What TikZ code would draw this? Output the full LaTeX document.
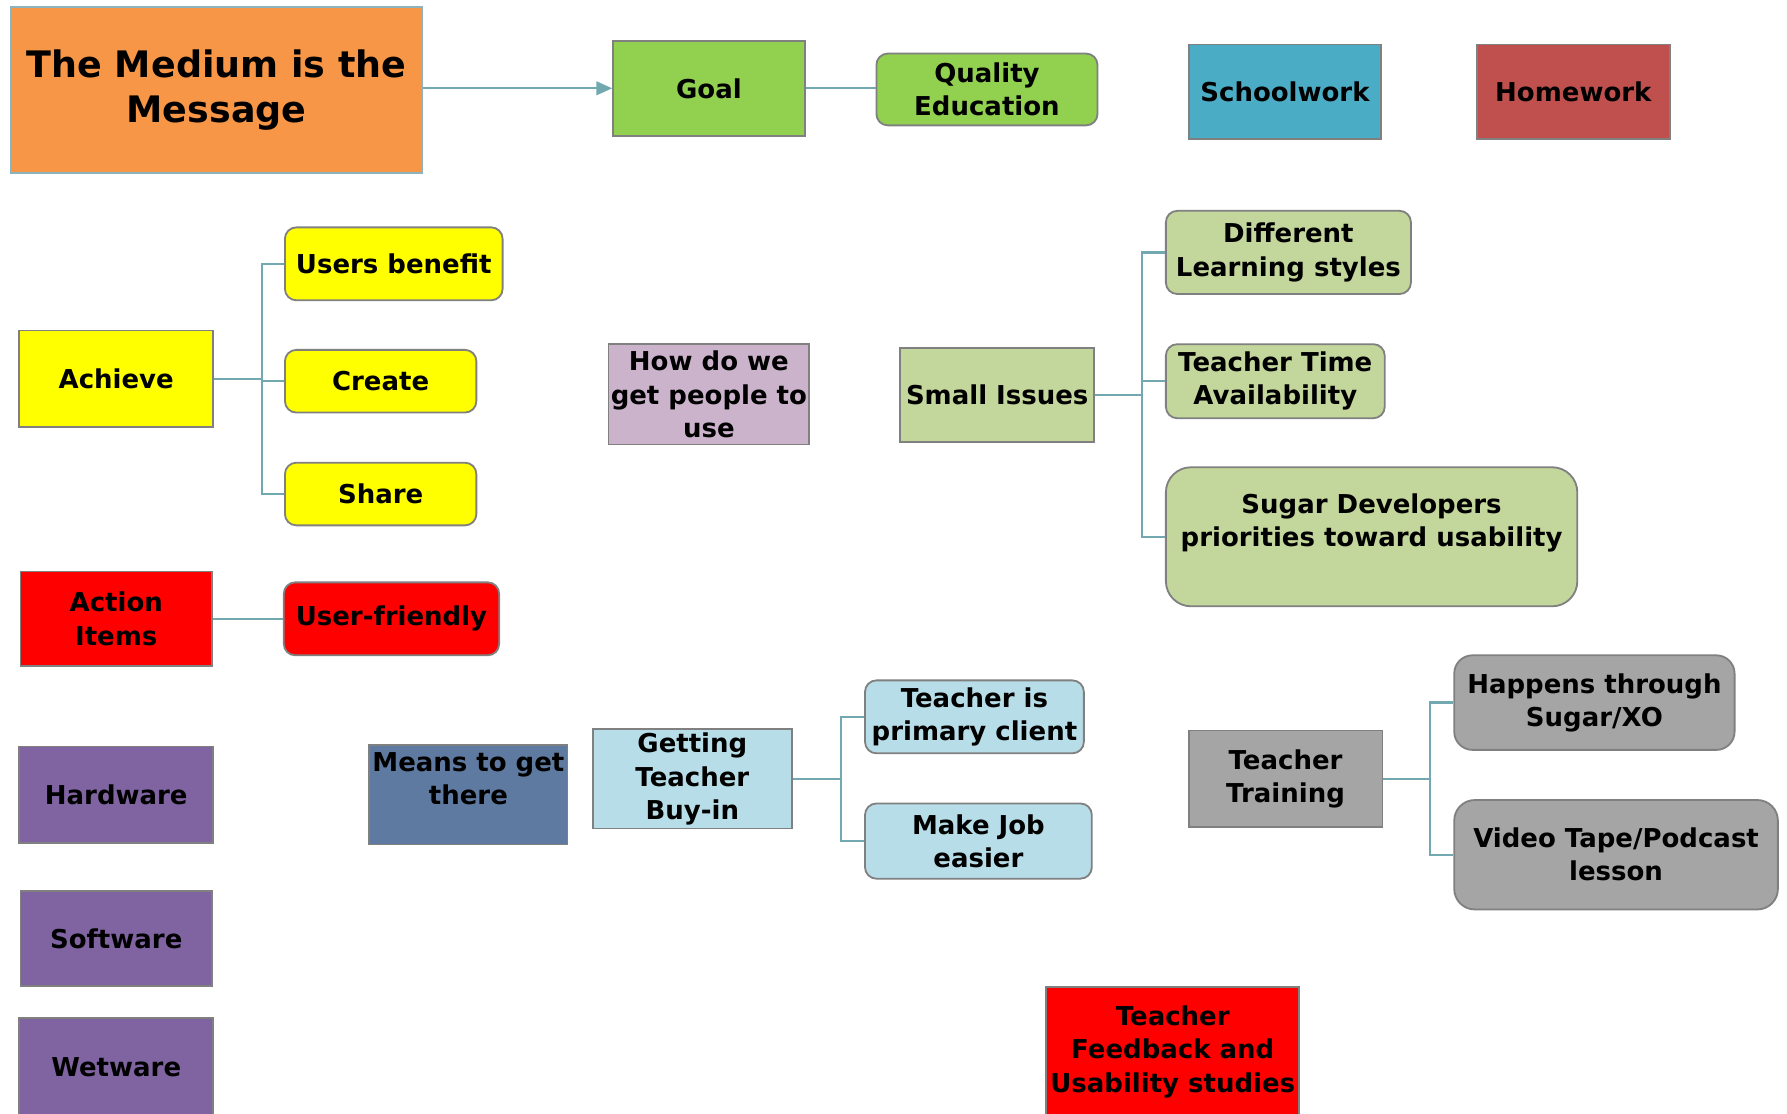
\documentclass[tikz,border=0pt]{standalone}
\usepackage{fontspec}
\setmainfont{DejaVu Sans}
\usetikzlibrary{arrows.meta}
\definecolor{titleorange}{HTML}{F79646}
\definecolor{titleline}{HTML}{8DB3BC}
\definecolor{boxline}{HTML}{808080}
\definecolor{linkteal}{HTML}{72A8B0}
\definecolor{goalgreen}{HTML}{92D050}
\definecolor{schoolblue}{HTML}{4BACC6}
\definecolor{homered}{HTML}{C0504D}
\definecolor{achyellow}{HTML}{FFFF00}
\definecolor{actred}{HTML}{FF0000}
\definecolor{warepurple}{HTML}{8064A2}
\definecolor{meansblue}{HTML}{5F7AA0}
\definecolor{buyblue}{HTML}{B7DEE8}
\definecolor{issuegreen}{HTML}{C3D69B}
\definecolor{traingray}{HTML}{A5A5A5}
\definecolor{usemauve}{HTML}{CCB3CC}

\tikzset{
  box/.style={draw=boxline, line width=0.8pt, fill=#1, align=center, inner sep=1pt,
    font=\fontsize{11.4}{14.5}\selectfont\bfseries},
  leaf/.style={box=#1, rounded corners=5pt},
  dims/.style 2 args={minimum width=#1*0.5pt, minimum height=#2*0.5pt},
  link/.style={draw=linkteal, line width=1pt},
}

\begin{document}
\begin{tikzpicture}[x=0.5pt, y=-0.5pt]
    \clip (0,0) rectangle (1568,977);
    \useasboundingbox (0,0) rectangle (1568,977);

    % top row
    \node[box=titleorange, draw=titleline, dims={360}{145},
          font=\fontsize{16}{20}\selectfont\bfseries] (title) at (190,79) {The Medium is the\\Message};
    \node[box=goalgreen, dims={168}{83}]           (goal)    at (622,77.5)    {Goal};
    \node[leaf=goalgreen, dims={194}{63}]          (quality) at (866,78.5)    {Quality\\Education};
    \node[box=schoolblue, dims={169}{83}]          (school)  at (1127.5,80.5) {Schoolwork};
    \node[box=homered, dims={169}{83}]             (home)    at (1380.5,80.5) {Homework};

    % achieve
    \node[box=achyellow, dims={170}{85}]           (achieve) at (102,332.5)   {Achieve};
    \node[leaf=achyellow, dims={191}{64}]          (users)   at (345.5,231.5) {Users benefit};
    \node[leaf=achyellow, dims={168}{55}]          (create)  at (334,334.5)   {Create};
    \node[leaf=achyellow, dims={168}{55}]          (share)   at (334,433.5)   {Share};

    \node[box=usemauve, dims={176}{88}]            (howuse)  at (622,346)     {How do we\\get people to\\use};

    % small issues
    \node[box=issuegreen, dims={170}{83}]          (small)   at (875,346.5)   {Small Issues};
    \node[leaf=issuegreen, dims={215}{73}]         (learn)   at (1130.5,221.5) {Different\\Learning styles};
    \node[leaf=issuegreen, dims={192}{65}]         (ttime)   at (1119,334.5)  {Teacher Time\\Availability};
    \node[leaf=issuegreen, dims={361}{122}, rounded corners=11pt]
                                                   (sugar)   at (1203.5,471)  {Sugar Developers\\priorities toward usability\\\mbox{}};

    % action items
    \node[box=actred, dims={168}{83}]              (action)  at (102,543)     {Action\\Items};
    \node[leaf=actred, dims={189}{64}]             (friendly) at (343.5,543)  {User-friendly};

    % wares
    \node[box=warepurple, dims={170}{85}]          (hardware) at (102,697.5)  {Hardware};
    \node[box=warepurple, dims={168}{83}]          (software) at (102,823.5)  {Software};
    \node[box=warepurple, dims={170}{87}]          (wetware)  at (102,936.5)  {Wetware};

    % means
    \node[box=meansblue, dims={174}{87}]           (means)   at (411,697.5)   {Means to get\\there\\\mbox{}};
    \node[box=buyblue, dims={175}{87}]             (buyin)   at (607.5,683.5) {Getting\\Teacher\\Buy-in};
    \node[leaf=buyblue, dims={192}{64}]            (client)  at (855,629)     {Teacher is\\primary client};
    \node[leaf=buyblue, dims={199}{66}]            (easier)  at (858.5,738)   {Make Job\\easier};

    % training
    \node[box=traingray, dims={170}{85}]           (training) at (1128,683.5) {Teacher\\Training};
    \node[leaf=traingray, dims={246}{83}, rounded corners=8pt]
                                                   (happens) at (1399,616.5)  {Happens through\\Sugar/XO};
    \node[leaf=traingray, dims={284}{96}, rounded corners=9pt]
                                                   (video)   at (1418,750)    {Video Tape/Podcast\\lesson};

    \node[box=actred, dims={222}{114}]             (feedback) at (1029,923)   {Teacher\\Feedback and\\Usability studies};

    % connectors
    \draw[link, -{Triangle[length=7pt, width=6pt]}] (title.east |- goal.west) -- (goal.west);
    \draw[link] (goal.east) -- (quality.west |- goal.east);

    \draw[link] (achieve.east) -- ++(42,0) coordinate (achJ);
    \draw[link] (achJ) |- (users.west);
    \draw[link] (achJ) |- (create.west);
    \draw[link] (achJ) |- (share.west);

    \draw[link] (action.east) -- (friendly.west);

    \draw[link] (small.east) -- ++(41,0) coordinate (smallJ);
    \draw[link] (smallJ) |- (learn.west);
    \draw[link] (smallJ) |- (ttime.west);
    \draw[link] (smallJ) |- (sugar.west);

    \draw[link] (buyin.east) -- ++(42,0) coordinate (buyJ);
    \draw[link] (buyJ) |- (client.west);
    \draw[link] (buyJ) |- (easier.west);

    \draw[link] (training.east) -- ++(41,0) coordinate (trainJ);
    \draw[link] (trainJ) |- (happens.west);
    \draw[link] (trainJ) |- (video.west);
\end{tikzpicture}
\end{document}
